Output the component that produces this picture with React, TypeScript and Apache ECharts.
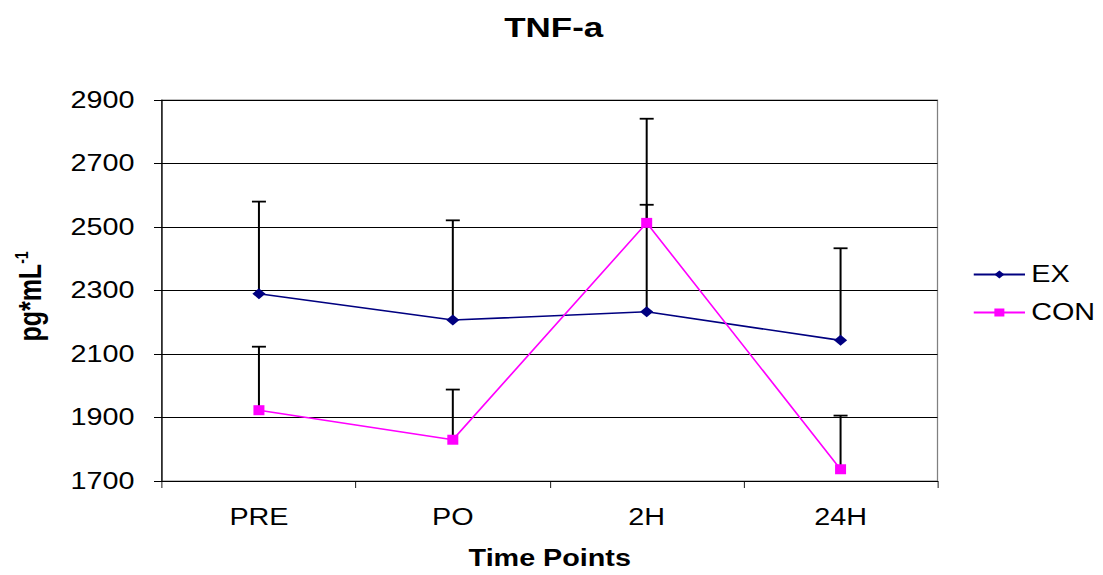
import React, { useEffect, useRef } from "react";
import * as echarts from "echarts";

const categories = ["PRE", "PO", "2H", "24H"];
const exValues = [2290, 2207, 2233, 2143];
const exErrTop = [2580, 2521, 2570, 2433];
const conValues = [1923, 1830, 2513, 1737];
const conErrTop = [2123, 1988, 2841, 1906];
const yTicks = { min: 1700, max: 2900, interval: 200 };

const FONT = "Liberation Sans, Arial, sans-serif";
// The reference is drawn horizontally stretched; render narrower and stretch.
const STRETCH = 1.25;
const W = 1103 / STRETCH;
const H = 575;

function errorSeries(name: string, means: number[], tops: number[]) {
  return {
    type: "custom",
    name,
    z: 1,
    silent: true,
    data: means.map((m, i) => [i, m, tops[i]]),
    encode: { x: 0, y: [1, 2] },
    renderItem: (params: any, api: any) => {
      const i = api.value(0);
      const p0 = api.coord([i, api.value(1)]);
      const p1 = api.coord([i, api.value(2)]);
      const half = 5.6;
      return {
        type: "group",
        children: [
          { type: "line", shape: { x1: p0[0], y1: p0[1], x2: p1[0], y2: p1[1] }, style: { stroke: "#000", lineWidth: 1.6 } },
          { type: "line", shape: { x1: p1[0] - half, y1: p1[1], x2: p1[0] + half, y2: p1[1] }, style: { stroke: "#000", lineWidth: 1.8 } },
        ],
      };
    },
  };
}

export default function App() {
  const ref = useRef<HTMLDivElement>(null);
  useEffect(() => {
    if (!ref.current) return;
    const chart = echarts.init(ref.current, undefined, { renderer: "svg" });
    chart.setOption({
      animation: false,
      backgroundColor: "#fff",
      title: {
        text: "TNF-a",
        left: 438,
        textAlign: "center",
        top: 8,
        textStyle: { fontFamily: FONT, fontWeight: "bold", fontSize: 28, color: "#000" },
      },
      grid: { left: 129.6, right: W - 750.4, top: 100, bottom: 92, show: true, borderColor: "#808080", borderWidth: 1 },
      legend: {
        orient: "vertical",
        left: 773,
        top: 258,
        itemWidth: 41,
        itemHeight: 10,
        itemGap: 15,
        textStyle: { fontFamily: FONT, fontSize: 23, color: "#000" },
        data: ["EX", "CON"],
      },
      xAxis: {
        type: "category",
        data: categories,
        boundaryGap: true,
        name: "Time Points",
        nameLocation: "middle",
        nameGap: 66,
        nameTextStyle: { fontFamily: FONT, fontWeight: "bold", fontSize: 23, color: "#000" },
        axisLine: { lineStyle: { color: "#000", width: 1 } },
        axisTick: { show: true, length: 7, lineStyle: { color: "#000", width: 0.8 } },
        axisLabel: { fontFamily: FONT, fontSize: 23, color: "#000", margin: 25 },
        splitLine: { show: false },
      },
      yAxis: {
        type: "value",
        min: yTicks.min,
        max: yTicks.max,
        interval: yTicks.interval,
        name: "pg*mL{sup|-1}",
        nameLocation: "middle",
        nameGap: 93,
        nameRotate: 90,
        nameTextStyle: {
          fontFamily: FONT,
          fontWeight: "bold",
          fontSize: 25,
          color: "#000",
          padding: [0, 12, 0, 0],
          rich: {
            sup: { fontFamily: FONT, fontWeight: "bold", fontSize: 14, color: "#000", verticalAlign: "top", padding: [0, 0, 12, 0] },
          },
        },
        axisLine: { show: true, lineStyle: { color: "#000", width: 1 } },
        axisTick: { show: true, length: 6.4, lineStyle: { color: "#000" } },
        axisLabel: { fontFamily: FONT, fontSize: 23, color: "#000", margin: 22, formatter: (v: number) => String(v) },
        splitLine: { show: true, lineStyle: { color: "#000", width: 1 } },
      },
      series: [
        errorSeries("EXerr", exValues, exErrTop),
        errorSeries("CONerr", conValues, conErrTop),
        {
          type: "line",
          name: "EX",
          z: 3,
          data: exValues,
          symbol: "diamond",
          symbolSize: [10.5, 11],
          itemStyle: { color: "#000080" },
          lineStyle: { color: "#000080", width: 1.6 },
        },
        {
          type: "line",
          name: "CON",
          z: 3,
          data: conValues,
          symbol: "rect",
          symbolSize: [8.8, 10],
          itemStyle: { color: "#FF00FF" },
          lineStyle: { color: "#FF00FF", width: 1.4 },
        },
      ],
    });
    return () => chart.dispose();
  }, []);
  return (
    <div
      ref={ref}
      style={{
        width: W,
        height: H,
        position: "absolute",
        left: 0,
        top: 0,
        transform: `scaleX(${STRETCH})`,
        transformOrigin: "0 0",
      }}
    />
  );
}
